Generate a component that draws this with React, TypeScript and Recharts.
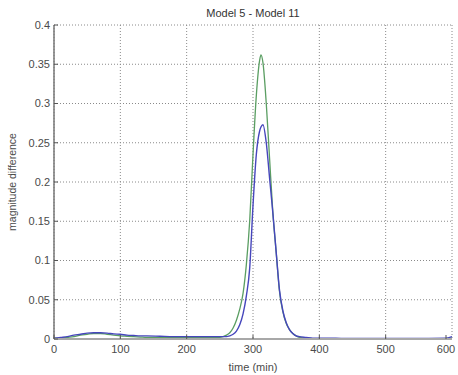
import React from 'react';
import { LineChart, Line, XAxis, YAxis, CartesianGrid } from 'recharts';

// time (min) sample points
const TIME = [
  0, 10, 20, 30, 40, 50, 60, 70, 80, 90, 100, 110, 120, 130, 140, 160, 180, 200,
  220, 240, 250, 255, 260, 265, 270, 275, 280, 285, 290, 295, 300, 305, 310, 312,
  315, 320, 325, 330, 335, 340, 345, 350, 355, 360, 365, 370, 380, 390, 400, 450,
  500, 550, 590, 600,
];

// green curve
const GREEN = [
  0.001, 0.001, 0.002, 0.003, 0.005, 0.006, 0.007, 0.007, 0.006, 0.005, 0.004,
  0.0035, 0.003, 0.0025, 0.002, 0.002, 0.002, 0.002, 0.002, 0.002, 0.002, 0.003,
  0.005, 0.008, 0.014, 0.024, 0.038, 0.058, 0.095, 0.15, 0.235, 0.31, 0.355,
  0.362, 0.352, 0.3, 0.23, 0.16, 0.11, 0.06, 0.035, 0.02, 0.012, 0.007, 0.004,
  0.002, 0.001, 0.0005, 0.0005, 0.0005, 0.0005, 0.0005, 0.0005, 0.001,
];

// blue curve
const BLUE = [
  0.001, 0.002, 0.003, 0.005, 0.006, 0.0075, 0.008, 0.008, 0.0075, 0.0065,
  0.006, 0.005, 0.0045, 0.004, 0.004, 0.0035, 0.003, 0.003, 0.003, 0.003, 0.003,
  0.003, 0.003, 0.004, 0.006, 0.01, 0.018, 0.032, 0.055, 0.09, 0.17, 0.235,
  0.265, 0.27, 0.273, 0.25, 0.205, 0.16, 0.11, 0.062, 0.036, 0.021, 0.012,
  0.007, 0.004, 0.003, 0.002, 0.001, 0.001, 0.0008, 0.0008, 0.0008, 0.001, 0.003,
];

const X_TICKS = [0, 100, 200, 300, 400, 500, 600];
const Y_TICKS = [0, 0.05, 0.1, 0.15, 0.2, 0.25, 0.3, 0.35, 0.4];

const data = TIME.map((t, i) => ({ t, green: GREEN[i], blue: BLUE[i] }));

const FONT = '"Liberation Sans", Arial, sans-serif';
const TEXT = '#4a4a4a';

const XTick = ({ x, y, payload }: any) => (
  <g>
    <line x1={x} x2={x} y1={y - 6} y2={y - 10} stroke="#555" />
    <text x={x} y={y} dy="0.75em" textAnchor="middle" fontSize={11} fill={TEXT} fontFamily={FONT}>
      {payload.value}
    </text>
  </g>
);

const YTick = ({ x, y, payload }: any) => (
  <g>
    <line x1={x + 4} x2={x + 8} y1={y} y2={y} stroke="#555" />
    <text x={x} y={y} dy="0.35em" textAnchor="end" fontSize={11} fill={TEXT} fontFamily={FONT}>
      {payload.value}
    </text>
  </g>
);

const YLabel = ({ viewBox }: any) => {
  const cx = 12;
  const cy = viewBox.y + viewBox.height / 2;
  return (
    <text
      x={cx}
      y={cy}
      transform={`rotate(-90 ${cx} ${cy})`}
      textAnchor="middle"
      dominantBaseline="central"
      fontSize={10.5}
      fill={TEXT}
      fontFamily={FONT}
    >
      magnitude difference
    </text>
  );
};

export default function App() {
  return (
    <div style={{ position: 'absolute', left: 0, top: 0, width: 458, height: 375, background: '#fff' }}>
      <div
        style={{
          position: 'absolute',
          top: 7,
          left: 54,
          width: 398,
          textAlign: 'center',
          fontSize: 11,
          fontFamily: FONT,
          color: '#333',
        }}
      >
        Model 5 - Model 11
      </div>
      <LineChart
        width={458}
        height={375}
        data={data}
        margin={{ top: 25, right: 6, left: 0, bottom: 0 }}
      >
        <CartesianGrid stroke="#8a8a8a" strokeDasharray="1 2" horizontal vertical />
        <XAxis
          dataKey="t"
          type="number"
          domain={[0, 600]}
          ticks={X_TICKS}
          height={36}
          tickSize={2}
          tickMargin={4}
          tickLine={false}
          tick={<XTick />}
          axisLine={{ stroke: '#a8a8a8', strokeWidth: 2 }}
          label={{
            value: 'time (min)',
            position: 'insideBottom',
            offset: 4,
            fontSize: 11,
            fill: TEXT,
            fontFamily: FONT,
          }}
        />
        <YAxis
          type="number"
          domain={[0, 0.4]}
          ticks={Y_TICKS}
          width={54}
          tickSize={2}
          tickMargin={2}
          tickLine={false}
          tick={<YTick />}
          axisLine={{ stroke: '#777', strokeWidth: 1.5 }}
          label={<YLabel />}
        />
        <Line
          type="monotone"
          dataKey="green"
          stroke="#5a9e62"
          strokeWidth={1.3}
          dot={false}
          isAnimationActive={false}
        />
        <Line
          type="monotone"
          dataKey="blue"
          stroke="#4646bc"
          strokeWidth={1.4}
          dot={false}
          isAnimationActive={false}
        />
      </LineChart>
    </div>
  );
}
